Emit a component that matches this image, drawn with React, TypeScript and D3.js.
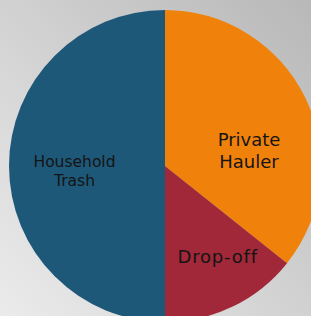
import React, { useEffect, useRef } from "react";
import * as d3 from "d3";

// slices in clockwise order from 12 o'clock
const categories = ["Private Hauler", "Drop-off", "Household Trash"];
const shares = [35.7, 14.3, 50];
const colors = ["#f0820b", "#a02839", "#1e5879"];
// label lines for each slice
const labelLines = [["Private", "Hauler"], ["Drop-off"], ["Household", "Trash"]];

const W = 311;
const H = 316;

const App: React.FC = () => {
  const svgRef = useRef<SVGSVGElement | null>(null);

  useEffect(() => {
    document.body.style.margin = "0";
    if (!svgRef.current) return;
    const svg = d3.select(svgRef.current);
    svg.selectAll("*").remove();

    const defs = svg.append("defs");
    const grad = defs
      .append("linearGradient")
      .attr("id", "bg")
      .attr("x1", "0%")
      .attr("y1", "100%")
      .attr("x2", "100%")
      .attr("y2", "0%");
    grad.append("stop").attr("offset", "0%").attr("stop-color", "#ebebeb");
    grad.append("stop").attr("offset", "100%").attr("stop-color", "#b8b8b8");

    svg.append("rect").attr("width", W).attr("height", H).attr("fill", "url(#bg)");

    const cx = 165;
    const cy = 166;
    const radius = 156;

    const pie = d3
      .pie<number>()
      .sort(null)
      .value((d) => d);
    const arcs = pie(shares);

    const arc = d3.arc<d3.PieArcDatum<number>>().innerRadius(0).outerRadius(radius);

    const g = svg.append("g").attr("transform", `translate(${cx},${cy})`);

    g.selectAll("path")
      .data(arcs)
      .enter()
      .append("path")
      .attr("d", arc)
      .attr("fill", (_, i) => colors[i]);

    // label placement: radius fraction, angle nudge (rad), font size, line height
    const labelCfg = [
      { r: 0.548, da: 0.263, size: 18, lh: 22, ls: 0 },
      { r: 0.67, da: -0.079, size: 18, lh: 22, ls: 0.8 },
      { r: 0.581, da: -0.054, size: 15.5, lh: 18.4, ls: 0 },
    ];

    arcs.forEach((d, i) => {
      const cfg = labelCfg[i];
      const a = (d.startAngle + d.endAngle) / 2 + cfg.da;
      const x = Math.sin(a) * radius * cfg.r;
      const y = -Math.cos(a) * radius * cfg.r;
      const lines = labelLines[i];
      const t = g
        .append("text")
        .attr("text-anchor", "middle")
        .attr("font-family", "DejaVu Sans, Verdana, sans-serif")
        .attr("font-size", cfg.size)
        .attr("letter-spacing", cfg.ls)
        .attr("fill", "#141414")
        .attr("aria-label", categories[i]);
      lines.forEach((ln, j) => {
        t.append("tspan")
          .attr("x", x)
          .attr("y", y + (j - (lines.length - 1) / 2) * cfg.lh + cfg.size * 0.36)
          .text(ln);
      });
    });
  }, []);

  return <svg ref={svgRef} width={W} height={H} style={{ display: "block" }} />;
};

export default App;
